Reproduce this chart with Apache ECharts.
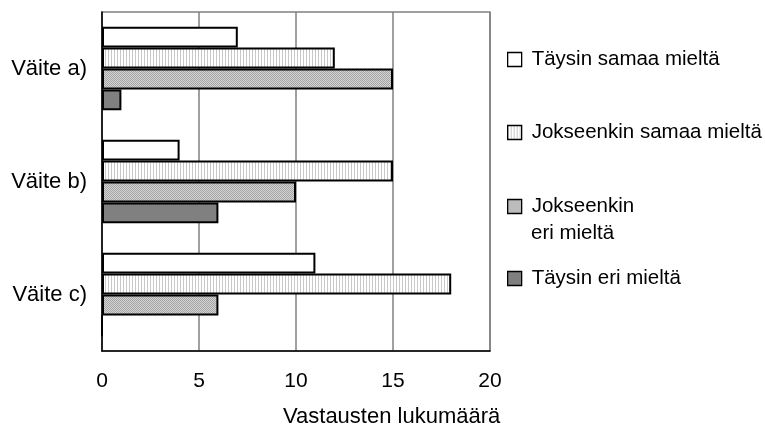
<!DOCTYPE html>
<html><head><meta charset="utf-8">
<script src="https://cdn.jsdelivr.net/npm/echarts@6/dist/echarts.min.js"></script>
<style>html,body{margin:0;padding:0;background:#fff}#c{width:765px;height:431px}</style>
</head><body><div id="c"></div>
<script>
const categories = ['Väite a)', 'Väite b)', 'Väite c)'];
const seriesNames = ['Täysin samaa mieltä', 'Jokseenkin samaa mieltä', 'Jokseenkin eri mieltä', 'Täysin eri mieltä'];
const legendLines = [['Täysin samaa mieltä'], ['Jokseenkin samaa mieltä'], ['Jokseenkin', 'eri mieltä'], ['Täysin eri mieltä']];
const tayysinSamaa = [7, 4, 11];
const jokseenkinSamaa = [12, 15, 18];
const jokseenkinEri = [15, 10, 6];
const taysinEri = [1, 6, 0];
const xTicks = [0, 5, 10, 15, 20];
const axisTitle = 'Vastausten lukumäärä';

function pattern(w, h, bg, fg, pts) {
  const c = document.createElement('canvas');
  c.width = w; c.height = h;
  const g = c.getContext('2d');
  g.fillStyle = bg; g.fillRect(0, 0, w, h);
  g.fillStyle = fg;
  pts.forEach(p => g.fillRect(p[0], p[1], 1, 1));
  return { image: c, repeat: 'repeat' };
}
const lightPat = pattern(3, 2, '#ffffff', '#c8c8c8', [[0,0],[0,1]]);
const medPat = pattern(2, 2, '#d4d4d4', '#a4a4a4', [[0,0],[1,1]]);
const fills = ['#ffffff', lightPat, medPat, '#808080'];
const dataSets = [tayysinSamaa, jokseenkinSamaa, jokseenkinEri, taysinEri];

const font = 'Liberation Sans, Arial, sans-serif';
const legendIconCenters = [60, 133, 207, 279];

const chart = echarts.init(document.getElementById('c'), null, { renderer: 'canvas' });
chart.setOption({
  animation: false,
  backgroundColor: '#fff',
  grid: { left: 102, right: 275, top: 12, bottom: 80, show: true, borderColor: '#808080', borderWidth: 1.5 },
  xAxis: {
    type: 'value', min: xTicks[0], max: xTicks[xTicks.length - 1], interval: 5,
    axisLine: { show: true, lineStyle: { color: '#000', width: 1.5 } },
    axisTick: { show: false },
    axisLabel: { color: '#000', fontSize: 21, fontFamily: font, margin: 20 },
    splitLine: { show: true, lineStyle: { color: '#808080', width: 1.5 } }
  },
  yAxis: {
    type: 'category', data: categories, inverse: true,
    axisLine: { show: true, lineStyle: { color: '#000', width: 1.5 } },
    axisTick: { show: false },
    axisLabel: { color: '#000', fontSize: 22, fontFamily: font, margin: 15 }
  },
  legend: seriesNames.map((n, i) => ({
    data: [n], orient: 'vertical', left: 507, top: legendIconCenters[i] - 11, padding: 0,
    icon: 'rect', itemWidth: 14, itemHeight: 14,
    formatter: () => legendLines[i][0],
    textStyle: { fontSize: 20.5, fontFamily: font, color: '#000', padding: [0, 0, 0, 5] },
    itemStyle: { borderColor: '#000', borderWidth: 1.3 },
    selectedMode: false
  })),
  graphic: [{
    type: 'text', left: 283, top: 406,
    style: { text: axisTitle, font: '22px ' + font, fill: '#000' }
  }, {
    type: 'text', left: 531, top: 223,
    style: { text: legendLines[2][1], font: '20.5px ' + font, fill: '#000' }
  }],
  series: dataSets.map((d, i) => ({
    name: seriesNames[i], type: 'bar', data: d,
    barGap: '0%', barCategoryGap: '26%',
    itemStyle: { color: fills[i], borderColor: '#000', borderWidth: 2 }
  }))
});
</script></body></html>
